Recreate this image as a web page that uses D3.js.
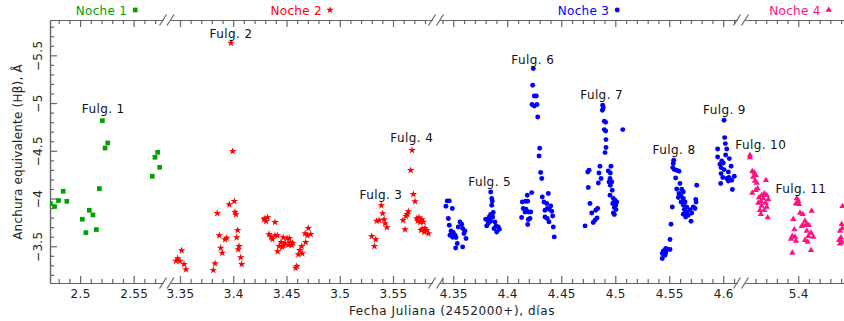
<!DOCTYPE html>
<html>
<head>
<meta charset="utf-8">
<script src="https://cdn.jsdelivr.net/npm/d3@7"></script>
<style>
  html, body { margin: 0; padding: 0; background: #fff; }
  svg { display: block; font-family: "DejaVu Sans", sans-serif; }
</style>
</head>
<body>
<div id="chart"></div>
<script>
// nights (legend) and the points of each one: [Julian date - 2452000, EW(Hbeta)]
const nights = ['Noche 1', 'Noche 2', 'Noche 3', 'Noche 4'];

const noche1 = [
  [2.5208, -4.816], [2.5258, -4.582], [2.5233, -4.529], [2.5724, -4.484], [2.5699, -4.432],
  [2.5743, -4.327], [2.5674, -4.233], [2.5180, -4.104], [2.4842, -4.076], [2.4798, -3.979],
  [2.4876, -3.971], [2.4723, -3.947], [2.4761, -3.916], [2.5086, -3.877], [2.5120, -3.828],
  [2.5021, -3.783], [2.5152, -3.675], [2.5054, -3.643]
];

const noche2 = [
  [3.3979, -5.629], [3.3995, -4.495], [3.4010, -3.971], [3.3963, -3.937], [3.3850, -3.846],
  [3.4016, -3.859], [3.4026, -3.832], [3.4042, -3.668], [3.3869, -3.612], [3.4032, -3.591],
  [3.3939, -3.587], [3.3923, -3.570], [3.3882, -3.482], [3.4054, -3.500], [3.3897, -3.430],
  [3.4047, -3.466], [3.4070, -3.382], [3.3829, -3.319], [3.4079, -3.312], [3.3813, -3.249],
  [3.3516, -3.455], [3.3478, -3.371], [3.3462, -3.346], [3.3500, -3.346], [3.3538, -3.312],
  [3.3556, -3.256],
  [3.4298, -3.790], [3.4324, -3.801], [3.4308, -3.762], [3.4289, -3.780], [3.4392, -3.751],
  [3.4336, -3.626], [3.4355, -3.598], [3.4367, -3.574], [3.4392, -3.612], [3.4414, -3.612],
  [3.4470, -3.591], [3.4505, -3.584], [3.4526, -3.584], [3.4448, -3.542], [3.4486, -3.535],
  [3.4536, -3.542], [3.4558, -3.535], [3.4430, -3.500], [3.4474, -3.508], [3.4517, -3.514],
  [3.4549, -3.511], [3.4417, -3.445], [3.4461, -3.493], [3.4705, -3.689], [3.4674, -3.633],
  [3.4727, -3.626], [3.4695, -3.612], [3.4680, -3.542], [3.4643, -3.500], [3.4624, -3.458],
  [3.4648, -3.424], [3.4611, -3.413], [3.4596, -3.291], [3.4586, -3.273],
  [3.5679, -4.505], [3.5666, -4.296], [3.5691, -4.045], [3.5707, -3.968], [3.5390, -3.926],
  [3.5403, -3.843], [3.5644, -3.864], [3.5632, -3.835], [3.5622, -3.814], [3.5416, -3.780],
  [3.5369, -3.772], [3.5347, -3.765], [3.5425, -3.738], [3.5444, -3.696], [3.5594, -3.772],
  [3.5613, -3.675], [3.5723, -3.790], [3.5744, -3.801], [3.5770, -3.780], [3.5732, -3.765],
  [3.5756, -3.751], [3.5785, -3.755], [3.5775, -3.681], [3.5800, -3.689], [3.5816, -3.668],
  [3.5794, -3.650], [3.5832, -3.633], [3.5763, -3.668], [3.5300, -3.605], [3.5338, -3.570],
  [3.5325, -3.500]
];

const noche3 = [
  [4.3444, -3.975], [4.3463, -3.975], [4.3432, -3.919], [4.3491, -3.895], [4.3454, -3.790],
  [4.3562, -3.755], [4.3578, -3.731], [4.3463, -3.720], [4.3546, -3.702], [4.3587, -3.686],
  [4.3608, -3.660], [4.3479, -3.660], [4.3500, -3.644], [4.3469, -3.615], [4.3516, -3.615],
  [4.3494, -3.594], [4.3525, -3.591], [4.3599, -3.633], [4.3618, -3.581], [4.3537, -3.528],
  [4.3522, -3.482], [4.3587, -3.493],
  [4.3846, -4.069], [4.3856, -4.000], [4.3861, -3.975], [4.3856, -3.930], [4.3870, -3.853],
  [4.3846, -3.832], [4.3833, -3.807], [4.3865, -3.807], [4.3800, -3.783], [4.3819, -3.772],
  [4.3846, -3.762], [4.3886, -3.755], [4.3824, -3.738], [4.3809, -3.713], [4.3895, -3.713],
  [4.3917, -3.702], [4.3877, -3.686], [4.3926, -3.678], [4.3902, -3.650],
  [4.4241, -5.361], [4.4235, -5.186], [4.4250, -5.074], [4.4269, -5.074], [4.4229, -4.984],
  [4.4250, -4.969], [4.4275, -4.984], [4.4282, -4.854], [4.4300, -4.526], [4.4294, -4.446],
  [4.4309, -4.272], [4.4319, -4.209], [4.4226, -4.062], [4.4185, -4.034], [4.4170, -3.971],
  [4.4189, -3.971], [4.4139, -3.964], [4.4148, -3.895], [4.4173, -3.888], [4.4195, -3.859],
  [4.4164, -3.859], [4.4217, -3.859], [4.4133, -3.801], [4.4195, -3.780], [4.4210, -3.790],
  [4.4189, -3.727], [4.4380, -4.052], [4.4324, -4.016], [4.4340, -3.964], [4.4365, -3.947],
  [4.4402, -3.922], [4.4370, -3.895], [4.4389, -3.888], [4.4349, -3.877], [4.4411, -3.867],
  [4.4420, -3.817], [4.4349, -3.807], [4.4370, -3.790], [4.4386, -3.755], [4.4426, -3.702],
  [4.4435, -3.598],
  [4.4883, -4.977], [4.4889, -4.952], [4.4880, -4.924], [4.4898, -4.809], [4.4911, -4.798],
  [4.4898, -4.722], [4.4911, -4.707], [4.5069, -4.722], [4.4914, -4.617], [4.4914, -4.534],
  [4.4905, -4.481], [4.4757, -4.296], [4.4745, -4.278], [4.4858, -4.338], [4.4960, -4.338],
  [4.4849, -4.268], [4.4935, -4.289], [4.4954, -4.268], [4.4868, -4.209], [4.4951, -4.209],
  [4.4843, -4.163], [4.4942, -4.173], [4.4967, -4.173], [4.4954, -4.139], [4.4750, -4.115],
  [4.4972, -4.087], [4.4951, -4.034], [4.4982, -4.000], [4.4997, -3.982], [4.5013, -3.964],
  [4.4976, -3.947], [4.5004, -3.930], [4.4766, -3.947], [4.4991, -3.905], [4.5007, -3.884],
  [4.4837, -3.895], [4.4819, -3.877], [4.4982, -3.849], [4.4782, -3.849], [4.4991, -3.832],
  [4.4831, -3.797], [4.4812, -3.772], [4.4796, -3.748], [4.4720, -3.713],
  [4.5541, -4.401], [4.5537, -4.366], [4.5532, -4.324], [4.5546, -4.303], [4.5569, -4.296],
  [4.5590, -4.285], [4.5559, -4.215], [4.5599, -4.157], [4.5754, -4.139], [4.5569, -4.100],
  [4.5615, -4.097], [4.5630, -4.069], [4.5590, -4.052], [4.5609, -4.024], [4.5584, -4.010],
  [4.5630, -4.000], [4.5745, -3.989], [4.5609, -3.964], [4.5646, -3.964], [4.5748, -3.964],
  [4.5630, -3.930], [4.5661, -3.912], [4.5722, -3.912], [4.5528, -3.912], [4.5639, -3.884],
  [4.5692, -3.884], [4.5738, -3.895], [4.5661, -3.859], [4.5708, -3.849], [4.5630, -3.835],
  [4.5676, -3.825], [4.5652, -3.807], [4.5701, -3.762], [4.5516, -3.731], [4.5507, -3.570],
  [4.5467, -3.476], [4.5485, -3.466], [4.5507, -3.466], [4.5445, -3.451], [4.5467, -3.430],
  [4.5435, -3.424], [4.5460, -3.406], [4.5435, -3.371],
  [4.6007, -4.819], [4.6013, -4.638], [4.6019, -4.575], [4.5948, -4.519], [4.6032, -4.519],
  [4.6022, -4.456], [4.5948, -4.435], [4.6056, -4.418], [4.5985, -4.393], [4.6000, -4.372],
  [4.5970, -4.359], [4.6072, -4.338], [4.5979, -4.324], [4.6007, -4.303], [4.6047, -4.278],
  [4.5979, -4.261], [4.5995, -4.220], [4.6032, -4.209], [4.6053, -4.220], [4.6078, -4.191],
  [4.5976, -4.157], [4.6084, -4.094], [4.6047, -4.184], [4.6102, -4.233]
];

const noche4 = [
  [5.3548, -4.453], [5.3548, -4.429], [5.3570, -4.285], [5.3589, -4.272], [5.3602, -4.244],
  [5.3579, -4.226], [5.3698, -4.191], [5.3595, -4.184], [5.3611, -4.163], [5.3620, -4.104],
  [5.3602, -4.087], [5.3570, -4.058], [5.3682, -4.052], [5.3658, -4.034], [5.3705, -4.034],
  [5.3633, -4.010], [5.3673, -4.000], [5.3720, -3.989], [5.3651, -3.971], [5.3695, -3.954],
  [5.3626, -3.954], [5.3658, -3.922], [5.3705, -3.912], [5.3682, -3.877], [5.3642, -3.877],
  [5.3651, -3.835], [5.3714, -3.801],
  [5.3985, -4.000], [5.4000, -3.975], [5.3978, -3.947], [5.4007, -3.940], [5.4125, -3.870],
  [5.4016, -3.849], [5.4041, -3.835], [5.3953, -3.783], [5.4063, -3.765], [5.4032, -3.710],
  [5.4079, -3.731], [5.4047, -3.720], [5.4100, -3.720], [5.3963, -3.675], [5.4079, -3.660],
  [5.4119, -3.639], [5.3944, -3.605], [5.3969, -3.598], [5.4094, -3.605], [5.4140, -3.598],
  [5.3932, -3.577], [5.4063, -3.563], [5.3978, -3.556], [5.4088, -3.545], [5.4119, -3.458],
  [5.3944, -3.430],
  [5.4413, -3.919], [5.4406, -3.731], [5.4411, -3.686], [5.4390, -3.660], [5.4399, -3.591],
  [5.4381, -3.563], [5.4406, -3.545], [5.4390, -3.528]
];

// flare labels, placed at data coordinates
const flareLabels = ['Fulg. 1', 'Fulg. 2', 'Fulg. 3', 'Fulg. 4', 'Fulg. 5', 'Fulg. 6',
                     'Fulg. 7', 'Fulg. 8', 'Fulg. 9', 'Fulg. 10', 'Fulg. 11'];
const flareX = [2.5216, 3.3979, 3.5387, 3.5676, 4.3837, 4.4236, 4.4874, 4.5544, 4.6011, 5.3649, 5.4025];
const flareY = [-4.893, -5.678, -3.992, -4.589, -4.128, -5.406, -5.039, -4.463, -4.882, -4.516, -4.055];

const xTickValues = [2.5, 2.55, 3.35, 3.4, 3.45, 3.5, 3.55, 4.35, 4.4, 4.45, 4.5, 4.55, 4.6, 5.4];
const yTickValues = [-5.5, -5, -4.5, -4, -3.5];

const xTitle = 'Fecha Juliana (2452000+), días';
const yTitle = 'Anchura equivalente (Hβ),  Å';

// ---- layout ----
const width = 844, height = 321;
const plotTop = 20, plotBottom = 283, plotLeft = 50;
const colors = ['#00a000', '#ff0000', '#0000ff', '#ff1080'];
const symbols = [
  d3.symbol().type(d3.symbolSquare).size(22),
  d3.symbol().type(d3.symbolStar).size(18),
  d3.symbol().type(d3.symbolCircle).size(19),
  d3.symbol().type(d3.symbolTriangle).size(17)
];
const axisColor = '#666';

// broken x axis: one linear scale per night
const segments = [
  { domain: [2.4719, 2.5774], range: [50, 163] },
  { domain: [3.3411, 3.5866], range: [170.5, 432] },
  { domain: [4.3377, 4.6127], range: [440, 737] },
  { domain: [5.3502, 5.4530], range: [745, 855] }
];
segments.forEach(s => { s.scale = d3.scaleLinear().domain(s.domain).range(s.range); });
function x(v) {
  const s = segments.find(s => v >= s.domain[0] - 1e-9 && v <= s.domain[1] + 1e-9);
  return s ? s.scale(v) : NaN;
}

const y = d3.scaleLinear().domain([-5.87, -3.115]).range([plotTop, plotBottom]);

const svg = d3.select('#chart').append('svg')
  .attr('width', width).attr('height', height);

svg.append('clipPath').attr('id', 'plot')
  .append('rect').attr('x', plotLeft).attr('y', plotTop)
  .attr('width', width - plotLeft).attr('height', plotBottom - plotTop);

// x axes (top and bottom) per segment
segments.forEach(s => {
  const major = xTickValues.filter(v => v >= s.domain[0] && v <= s.domain[1]);
  const minor = d3.range(Math.ceil(s.domain[0] * 100), Math.floor(s.domain[1] * 100) + 1)
    .map(d => d / 100)
    .filter(v => !major.some(m => Math.abs(m - v) < 1e-6));

  const gb = svg.append('g').attr('transform', `translate(0,${plotBottom})`);
  gb.call(d3.axisBottom(s.scale).tickValues(major).tickSizeInner(-7).tickSizeOuter(0)
    .tickPadding(6).tickFormat(d3.format('')));
  gb.append('g').call(d3.axisBottom(s.scale).tickValues(minor).tickSizeInner(-4)
    .tickSizeOuter(0).tickFormat(''));

  const gt = svg.append('g').attr('transform', `translate(0,${plotTop})`);
  gt.call(d3.axisTop(s.scale).tickValues(major).tickSizeInner(-7).tickSizeOuter(0).tickFormat(''));
  gt.append('g').call(d3.axisTop(s.scale).tickValues(minor).tickSizeInner(-4)
    .tickSizeOuter(0).tickFormat(''));
});

// break marks "//"
segments.slice(0, -1).forEach((s, i) => {
  const xs = [s.range[1], segments[i + 1].range[0]];
  [plotTop, plotBottom].forEach(ay => {
    xs.forEach(bx => {
      svg.append('line').attr('class', 'brk')
        .attr('x1', bx - 3.5).attr('y1', ay + 5.5)
        .attr('x2', bx + 3.5).attr('y2', ay - 5.5);
    });
  });
});

// y axis
const gy = svg.append('g').attr('transform', `translate(${plotLeft},0)`);
gy.call(d3.axisLeft(y).tickValues(yTickValues).tickSizeInner(-7).tickSizeOuter(0)
  .tickFormat(d => d3.format('')(d).replace('-', '−')));
gy.append('g').call(d3.axisLeft(y)
  .tickValues(d3.range(-58, -31).map(d => d / 10).filter(v => !yTickValues.some(m => Math.abs(m - v) < 1e-6)))
  .tickSizeInner(-4).tickSizeOuter(0).tickFormat(''));
gy.selectAll('.tick text')
  .attr('x', null).attr('dy', null)
  .attr('text-anchor', 'middle')
  .attr('transform', 'translate(-8,0) rotate(-90)');

svg.selectAll('.domain, .tick line, .brk')
  .attr('stroke', axisColor).attr('stroke-width', 1.2);
svg.selectAll('.tick text')
  .attr('fill', '#222').attr('font-size', 12).attr('letter-spacing', 0.3)
  .attr('font-family', '"DejaVu Sans", sans-serif');

// titles
svg.append('text').attr('x', 452).attr('y', 315)
  .attr('text-anchor', 'middle').attr('font-size', 12).attr('fill', '#222')
  .attr('letter-spacing', 0.6)
  .text(xTitle);
svg.append('text').attr('transform', 'translate(22,152) rotate(-90)')
  .attr('text-anchor', 'middle').attr('font-size', 12).attr('fill', '#222')
  .attr('letter-spacing', 0.2)
  .text(yTitle);

// points
const plot = svg.append('g').attr('clip-path', 'url(#plot)');
[noche1, noche2, noche3, noche4].forEach((pts, i) => {
  plot.append('g').selectAll('path').data(pts).join('path')
    .attr('d', symbols[i])
    .attr('transform', d => `translate(${x(d[0])},${y(d[1])})`)
    .attr('fill', colors[i]);
});

// flare labels
svg.append('g').selectAll('text').data(flareLabels).join('text')
  .attr('x', (d, i) => x(flareX[i]))
  .attr('y', (d, i) => y(flareY[i]))
  .attr('text-anchor', 'middle')
  .attr('font-size', 12).attr('fill', '#111').attr('letter-spacing', 0.4)
  .text(d => d);

// legend above each segment
nights.forEach((name, i) => {
  const s = segments[i];
  const g = svg.append('g');
  const t = g.append('text').attr('x', 0).attr('y', 15)
    .attr('font-size', 12).attr('fill', colors[i]).attr('letter-spacing', 0.3).text(name);
  const len = t.node().getComputedTextLength();
  g.append('path').attr('d', symbols[i])
    .attr('transform', `translate(${len + 8},10)`)
    .attr('fill', colors[i]);
  const cx = (s.range[0] + s.range[1]) / 2;
  g.attr('transform', `translate(${cx - (len + 10) / 2},0)`);
});
</script>
</body>
</html>
